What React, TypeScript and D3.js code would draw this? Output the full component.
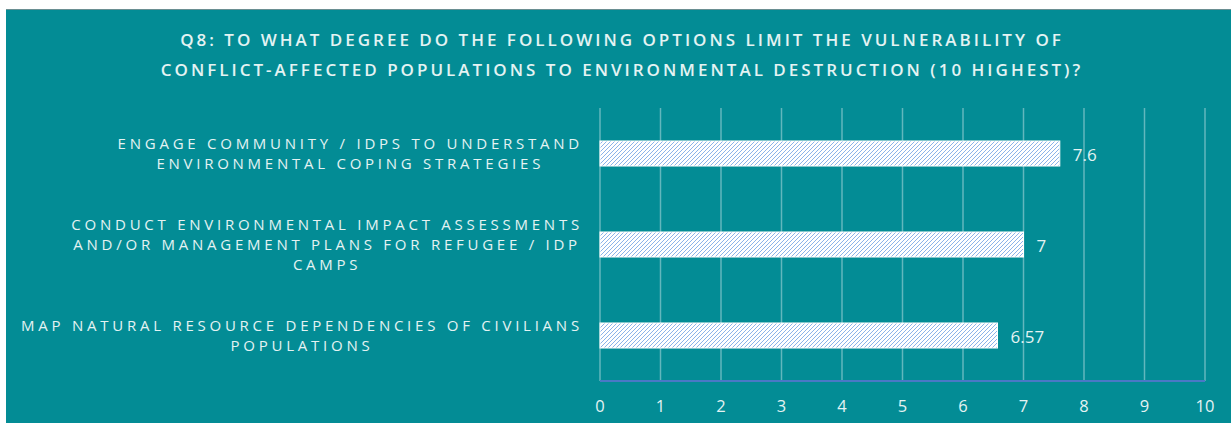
import React from "react";
import * as d3 from "d3";

const titleLines = [
  "Q8: TO WHAT DEGREE DO THE FOLLOWING OPTIONS LIMIT THE VULNERABILITY OF",
  "CONFLICT-AFFECTED POPULATIONS TO ENVIRONMENTAL DESTRUCTION (10 HIGHEST)?",
];
const categories = [
  ["ENGAGE COMMUNITY / IDPS TO UNDERSTAND", "ENVIRONMENTAL COPING STRATEGIES"],
  ["CONDUCT ENVIRONMENTAL IMPACT ASSESSMENTS", "AND/OR MANAGEMENT PLANS FOR REFUGEE / IDP", "CAMPS"],
  ["MAP NATURAL RESOURCE DEPENDENCIES OF CIVILIANS", "POPULATIONS"],
];
const values = [7.6, 7, 6.57];
const valueLabels = ["7.6", "7", "6.57"];
const ticks = [0, 1, 2, 3, 4, 5, 6, 7, 8, 9, 10];

const W = 1231;
const H = 423;
const BG = "#038c95";
const TEXT = "#e4f3f3";
const FONT = "'Open Sans', 'DejaVu Sans', sans-serif";

export default function App() {
  const x = d3.scaleLinear().domain([0, 10]).range([600, 1205]);
  const y = d3
    .scaleBand<number>()
    .domain(d3.range(categories.length))
    .range([108, 381])
    .paddingInner(0.725)
    .paddingOuter(0.3625);
  const labelRight = 581;
  const lineH = 20;
  const labelSize = 15;
  const labelLS = 3.75;

  const measure = (s: string, size: number, ls: number) => {
    const c = document.createElement("canvas").getContext("2d");
    if (!c) return s.length * 12;
    c.font = `${size}px 'Open Sans'`;
    return c.measureText(s).width + ls * s.length;
  };

  return (
    <svg
      width={W}
      height={H}
      style={{ position: "absolute", left: 0, top: 0 }}
      xmlns="http://www.w3.org/2000/svg"
    >
      <defs>
        <pattern id="hatch" width="4" height="4" patternUnits="userSpaceOnUse">
          <rect width="4" height="4" fill="#ffffff" />
          <path d="M-1,1 L1,-1 M0,4 L4,0 M3,5 L5,3" stroke="#7eaae6" strokeWidth="0.9" />
        </pattern>
      </defs>
      <rect x={0} y={0} width={W} height={H} fill="#ffffff" />
      <rect x={6} y={9} width={W - 6} height={H - 9} fill={BG} />
      <line x1={6} x2={W} y1={9.5} y2={9.5} stroke="#6a8f92" strokeWidth={1} />

      {titleLines.map((t, i) => (
        <text
          key={i}
          x={622}
          y={46 + i * 30}
          textAnchor="middle"
          fill={TEXT}
          fontFamily={FONT}
          fontWeight={600}
          fontSize={17}
          letterSpacing={3.0}
        >
          {t}
        </text>
      ))}

      {ticks.map((t) => (
        <line
          key={"g" + t}
          x1={x(t)}
          x2={x(t)}
          y1={108}
          y2={381}
          stroke="#ffffff"
          strokeOpacity={0.38}
          strokeWidth={1.5}
        />
      ))}

      {values.map((v, i) => (
        <rect
          key={"b" + i}
          x={x(0)}
          y={y(i)}
          width={x(v) - x(0)}
          height={y.bandwidth()}
          fill="url(#hatch)"
          stroke="#ffffff"
          strokeWidth={1}
        />
      ))}

      {values.map((v, i) => (
        <text
          key={"v" + i}
          x={x(v) + 13}
          y={(y(i) ?? 0) + y.bandwidth() / 2 + 7}
          fill={TEXT}
          fontFamily={FONT}
          fontSize={17}
        >
          {valueLabels[i]}
        </text>
      ))}

      <line x1={x(0)} x2={x(10)} y1={381} y2={381} stroke="#4a78c6" strokeWidth={2} />

      {ticks.map((t) => (
        <text
          key={"t" + t}
          x={x(t)}
          y={411.5}
          textAnchor="middle"
          fill={TEXT}
          fontFamily={FONT}
          fontSize={16.5}
        >
          {t}
        </text>
      ))}

      {categories.map((lines, i) => {
        const widths = lines.map((l) => measure(l, labelSize, labelLS));
        const maxW = Math.max(...widths);
        const cx = labelRight - maxW / 2 + labelLS / 2;
        const cy = (y(i) ?? 0) + y.bandwidth() / 2;
        const first = cy - ((lines.length - 1) * lineH) / 2 + 5.5;
        return lines.map((l, j) => (
          <text
            key={"c" + i + "-" + j}
            x={cx}
            y={first + j * lineH}
            textAnchor="middle"
            fill={TEXT}
            fontFamily={FONT}
            fontSize={labelSize}
            letterSpacing={labelLS}
          >
            {l}
          </text>
        ));
      })}
    </svg>
  );
}
